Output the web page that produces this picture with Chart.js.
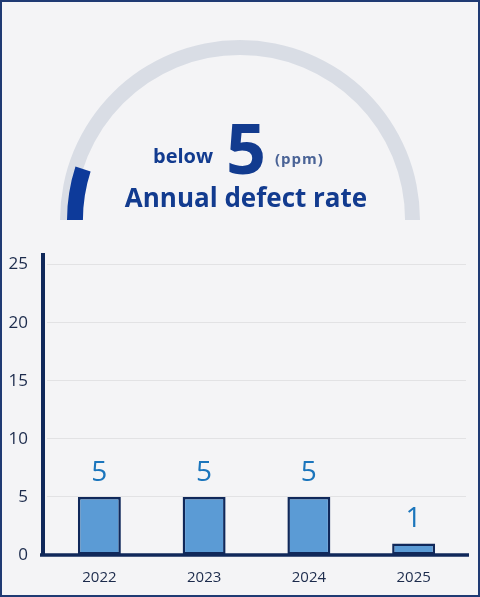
<!DOCTYPE html>
<html>
<head>
<meta charset="utf-8">
<script src="https://cdn.jsdelivr.net/npm/chart.js@4.4.1/dist/chart.umd.min.js"></script>
<style>
  html, body { margin: 0; padding: 0; }
  body { position: relative; width: 480px; height: 597px; overflow: hidden; background: #f4f4f6; font-family: "Open Sans", sans-serif; }
  #frame { position: absolute; left: 0; top: 0; width: 480px; height: 597px; box-sizing: border-box; border: 2px solid #1f3a73; }
  .box { position: absolute; }
  #track { left: 60px; top: 40px; width: 360px; height: 180px; }
  #fill { left: 67px; top: 47px; width: 346px; height: 173px; }
  #bars { left: 0; top: 240px; width: 480px; height: 357px; }
  .txt { position: absolute; white-space: nowrap; color: #123b8f; font-weight: 700; line-height: 1; }
  #below { left: 153px; top: 146px; font-size: 20px; }
  #big { left: 226px; top: 112px; font-size: 70px; }
  #unit { left: 275px; top: 151px; font-size: 15px; letter-spacing: 1px; color: #4a6396; }
  #title { left: 0; width: 492px; text-align: center; top: 184px; font-size: 26px; }
</style>
</head>
<body>
<div id="frame"></div>
<div class="box" id="track"><canvas id="trackChart"></canvas></div>
<div class="box" id="fill"><canvas id="fillChart"></canvas></div>
<div class="txt" id="below">below</div>
<div class="txt" id="big">5</div>
<div class="txt" id="unit">(ppm)</div>
<div class="txt" id="title">Annual defect rate</div>
<div class="box" id="bars"><canvas id="barChart"></canvas></div>
<script>
// gauge
var gaugeValue = 5;
var gaugeMax = 50;

// bars
var years = ["2022", "2023", "2024", "2025"];
var defects = [5, 5, 5, 1];
var yTicks = [0, 5, 10, 15, 20, 25];
var yMax = 26;

var navy = "#10285a";

function gaugeOptions(cutout) {
  return {
    responsive: true,
    maintainAspectRatio: false,
    animation: false,
    events: [],
    rotation: -90,
    circumference: 180,
    cutout: cutout,
    layout: { padding: 0 },
    plugins: { legend: { display: false }, tooltip: { enabled: false } }
  };
}

new Chart(document.getElementById("trackChart"), {
  type: "doughnut",
  data: {
    datasets: [{ data: [gaugeMax], backgroundColor: ["#d9dde5"], borderWidth: 0 }]
  },
  options: gaugeOptions("91.7%")
});

new Chart(document.getElementById("fillChart"), {
  type: "doughnut",
  data: {
    datasets: [{
      data: [gaugeValue, gaugeMax - gaugeValue],
      backgroundColor: ["#0d3a9a", "rgba(0,0,0,0)"],
      borderWidth: 0
    }]
  },
  options: gaugeOptions("90.8%")
});

var axisLines = {
  id: "axisLines",
  afterDatasetsDraw: function(chart) {
    var ctx = chart.ctx;
    var area = chart.chartArea;
    var y0 = chart.scales.y.getPixelForValue(0);
    ctx.save();
    ctx.strokeStyle = navy;
    ctx.lineWidth = 4;
    ctx.beginPath();
    ctx.moveTo(area.left - 4, area.top);
    ctx.lineTo(area.left - 4, y0 + 1);
    ctx.stroke();
    ctx.lineWidth = 3.5;
    ctx.beginPath();
    ctx.moveTo(area.left - 7, y0);
    ctx.lineTo(area.right + 3, y0);
    ctx.stroke();
    ctx.restore();
  }
};

var barLabels = {
  id: "barLabels",
  afterDatasetsDraw: function(chart) {
    var ctx = chart.ctx;
    var meta = chart.getDatasetMeta(0);
    ctx.save();
    ctx.font = '28px "Open Sans"';
    ctx.fillStyle = "#1b75bc";
    ctx.textAlign = "center";
    ctx.textBaseline = "alphabetic";
    meta.data.forEach(function(bar, i) {
      ctx.fillText(String(defects[i]), bar.x, bar.y - 16);
    });
    ctx.restore();
  }
};

new Chart(document.getElementById("barChart"), {
  type: "bar",
  data: {
    labels: years,
    datasets: [{
      data: defects,
      backgroundColor: "#5b9bd5",
      borderColor: navy,
      borderWidth: 2.5,
      borderSkipped: false,
      categoryPercentage: 1,
      barPercentage: 0.41
    }]
  },
  options: {
    responsive: true,
    maintainAspectRatio: false,
    animation: false,
    events: [],
    layout: { padding: { top: 13, right: 14, bottom: 0, left: 0 } },
    plugins: { legend: { display: false }, tooltip: { enabled: false } },
    scales: {
      x: {
        grid: { display: false, drawTicks: false },
        border: { display: false },
        ticks: { color: "#1c2b4c", font: { family: "Open Sans", size: 15 }, padding: 14 },
        afterFit: function(scale) {
          scale.height = 42;
          scale.paddingLeft = 0;
          scale.paddingRight = 0;
        }
      },
      y: {
        min: 0,
        max: yMax,
        grid: { color: "#e2e2e4", lineWidth: 1, drawTicks: false },
        border: { display: false },
        ticks: { color: "#1c2b4c", font: { family: "Open Sans", size: 17 }, padding: 19 },
        afterBuildTicks: function(scale) {
          scale.ticks = yTicks.map(function(v) { return { value: v }; });
        },
        afterFit: function(scale) {
          scale.width = 47;
          scale.paddingTop = 0;
          scale.paddingBottom = 0;
        }
      }
    }
  },
  plugins: [axisLines, barLabels]
});
</script>
</body>
</html>
